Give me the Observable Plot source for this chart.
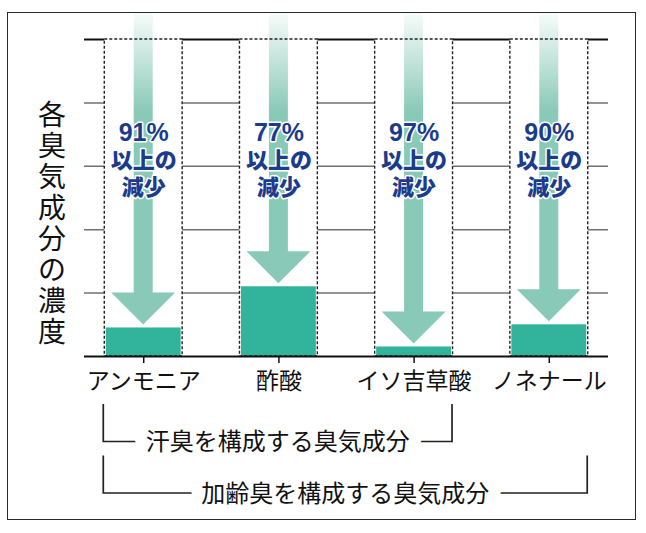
<!DOCTYPE html>
<html><head><meta charset="utf-8">
<script src="https://cdn.jsdelivr.net/npm/d3@7"></script>
<script src="https://cdn.jsdelivr.net/npm/@observablehq/plot@0.6"></script>
<style>
body{margin:0;background:#fff;}
#wrap{position:relative;width:646px;height:533px;}
#border{position:absolute;left:7px;top:12px;width:627px;height:506px;border:1px solid #2a2a2a;pointer-events:none;}
</style></head>
<body><div id="wrap"><div id="border"></div></div>
<script>
// ---- data ----
const components = ["アンモニア", "酢酸", "イソ吉草酸", "ノネナール"];
const remaining = [9, 22, 3, 10];            // concentration after (before = 100)
const reductionPct = ["91%", "77%", "97%", "90%"];
const reductionNote = ["以上の\n減少", "以上の\n減少", "以上の\n減少", "以上の\n減少"];
const beforeLevel = 100;
const gridLevels = [20, 40, 60, 80];
const yAxisLabel = "各臭気成分の濃度";
const groupLabels = ["汗臭を構成する臭気成分", "加齢臭を構成する臭気成分"];
const groupFrom = ["アンモニア", "アンモニア"];
const groupTo = ["イソ吉草酸", "ノネナール"];

const data = components.map((name, i) => ({name, value: remaining[i], pct: reductionPct[i], note: reductionNote[i], before: beforeLevel}));
const groups = groupLabels.map((label, i) => ({label, from: groupFrom[i], to: groupTo[i]}));

const SHAFT = "#89c9b7", BAR = "#31b39c", NAVY = "#1b3c8c";

function arrowMark(index, {x, y}, values, dims) {
  const bw = x.bandwidth();
  const g = d3.create("svg:g");
  g.append("defs").html(`<linearGradient id="shaftGrad" gradientUnits="userSpaceOnUse" x1="0" y1="13" x2="0" y2="112"><stop offset="0" stop-color="${SHAFT}" stop-opacity="0.06"/><stop offset="1" stop-color="${SHAFT}" stop-opacity="1"/></linearGradient>`);
  for (const d of data) {
    const cx = x(d.name) + bw / 2;
    const tip = y(d.value) - 3;
    const base = tip - 32;
    const top = dims.marginTop - 26;
    g.append("rect").attr("x", cx - 9.5).attr("width", 19).attr("y", top).attr("height", base + 1 - top).attr("fill", "url(#shaftGrad)");
    g.append("path").attr("d", `M${cx - 32},${base}L${cx + 32},${base}L${cx},${tip}Z`).attr("fill", SHAFT);
  }
  return g.node();
}

function bracketMark(index, {x}, values, dims) {
  const bw = x.bandwidth();
  const y0 = dims.height - dims.marginBottom;
  const g = d3.create("svg:g");
  groups.forEach((gr, i) => {
    const left = x(gr.from) - 1;
    const right = x(gr.to) + bw - 0.5;
    const top = y0 + 48 + i * 51.5;
    const bottom = top + 37.5;
    g.append("path").attr("d", `M${left},${top}V${bottom}H${right}V${top}`)
      .attr("fill", "none").attr("stroke", "#222").attr("stroke-width", 1.7);
    g.append("text").attr("x", (left + right) / 2).attr("y", bottom).attr("dy", "0.37em")
      .attr("text-anchor", "middle").attr("font-size", 24).attr("fill", "#111")
      .attr("stroke", "white").attr("stroke-width", 24).attr("stroke-linejoin", "round")
      .attr("paint-order", "stroke").text(gr.label);
  });
  return g.node();
}

const chart = Plot.plot({
  width: 646,
  height: 533,
  marginLeft: 84,
  marginRight: 38,
  marginTop: 39,
  marginBottom: 177,
  style: {fontFamily: "'Noto Sans CJK JP', 'Noto Sans', sans-serif", color: "#111", background: "transparent", overflow: "visible"},
  x: {type: "band", domain: components, paddingInner: 0.424, paddingOuter: 0.15, round: false},
  y: {domain: [0, beforeLevel], axis: null},
  marks: [
    Plot.ruleY(gridLevels, {stroke: "#707070", strokeWidth: 1.5}),
    Plot.ruleY([beforeLevel], {stroke: "#111", strokeWidth: 2.2}),
    Plot.barY(data, {x: "name", y: "before", fill: "white", insetTop: -2}),
    arrowMark,
    Plot.barY(data, {x: "name", y: "value", fill: BAR, insetLeft: 1.5, insetRight: 1.5}),
    Plot.barY(data, {x: "name", y: "before", fill: "none", stroke: "#222", strokeWidth: 1.4, strokeDasharray: "3,2"}),
    Plot.ruleY([0], {stroke: "#111", strokeWidth: 2.2}),
    Plot.axisX({tickSize: 7, tickPadding: 9, fontSize: 23, strokeWidth: 1.5, label: null}),
    Plot.text(data, {x: "name", text: "pct", frameAnchor: "top", dy: 93, lineAnchor: "middle",
      fontSize: 25, fontWeight: "bold", fontFamily: "'Liberation Sans', Arial, sans-serif",
      fill: NAVY, stroke: "white", strokeWidth: 3}),
    Plot.text(data, {x: "name", text: "note", frameAnchor: "top", dy: 133, lineAnchor: "middle",
      lineHeight: 1.23, fontSize: 22, fontWeight: 900,
      fill: NAVY, stroke: "white", strokeWidth: 3}),
    Plot.text([yAxisLabel.split("").join("\n")], {frameAnchor: "left", dx: -32.5, dy: 26,
      textAnchor: "middle", lineAnchor: "middle", lineHeight: 1.107, fontSize: 28, fill: "#111"}),
    bracketMark
  ]
});
document.getElementById("wrap").prepend(chart);
chart.style.position = "absolute";
chart.style.left = "0";
chart.style.top = "0";
</script>
</body></html>
